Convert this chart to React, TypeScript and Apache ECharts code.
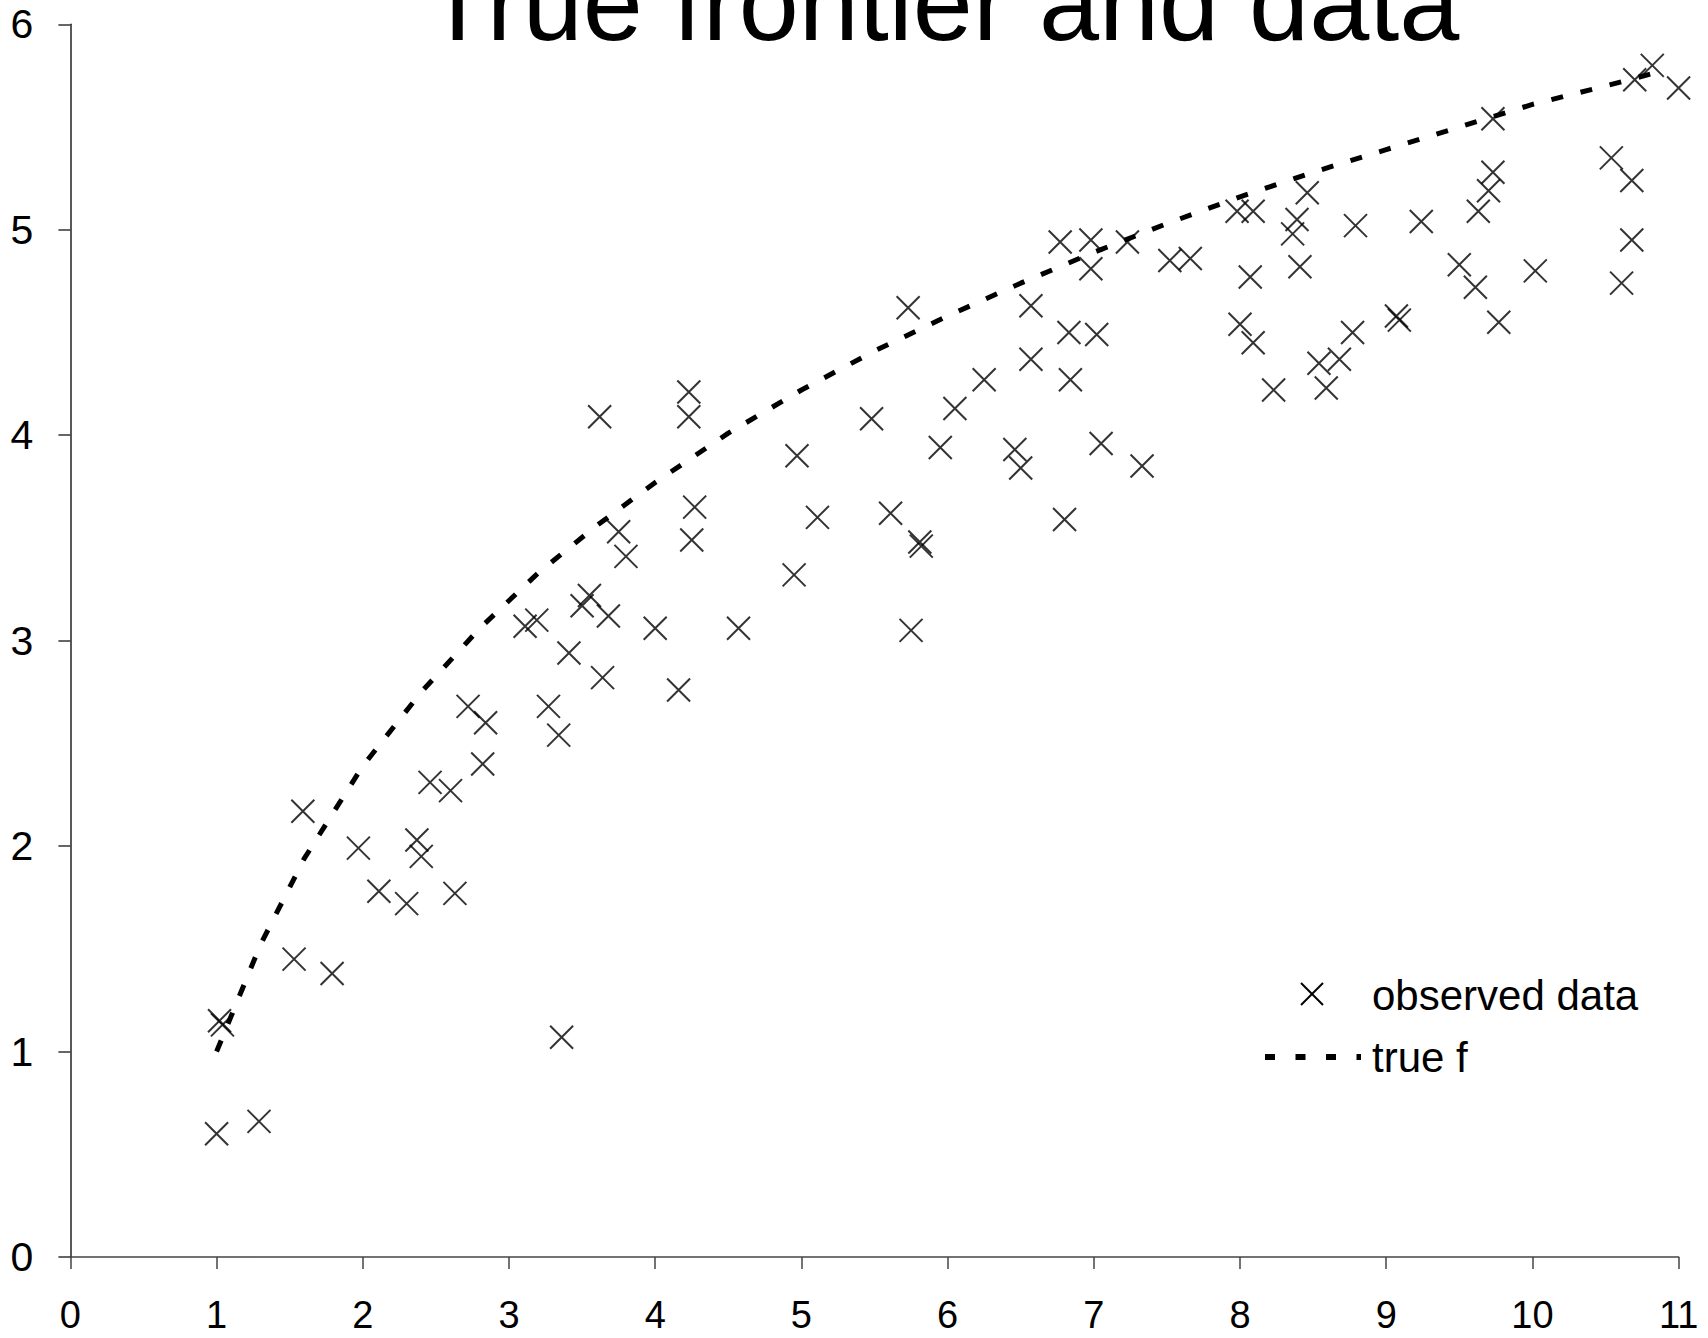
import React, { useEffect, useRef } from "react";
import * as echarts from "echarts";

const titleText = "True frontier and data";
const seriesNames = ["observed data", "true f"];
const xTicks = [0, 1, 2, 3, 4, 5, 6, 7, 8, 9, 10, 11];
const yTicks = [0, 1, 2, 3, 4, 5, 6];

const obsX = [
  1.0, 1.02, 1.04, 1.29, 1.53, 1.59, 1.79, 1.97, 2.11, 2.3, 2.37, 2.4, 2.46, 2.6, 2.63, 2.72, 2.84, 2.82,
  3.11, 3.19, 3.27, 3.34, 3.36, 3.41, 3.5, 3.55, 3.62, 3.64, 3.68, 3.75, 3.8, 4.0, 4.16, 4.23, 4.23, 4.25,
  4.27, 4.57, 4.95, 4.97, 5.11, 5.48, 5.61, 5.73, 5.75, 5.81, 5.82, 5.95, 6.05, 6.25, 6.46, 6.5, 6.57, 6.57,
  6.77, 6.8, 6.83, 6.84, 6.98, 6.98, 7.02, 7.05, 7.23, 7.33, 7.52, 7.66, 7.98, 8.09, 8.07, 8.0, 8.09, 8.23,
  8.46, 8.39, 8.36, 8.41, 8.54, 8.68, 8.59, 8.77, 8.79, 9.07, 9.09, 9.24, 9.5, 9.61, 9.63, 9.7, 9.73, 9.73,
  9.77, 10.02, 10.54, 10.68, 10.68, 10.61, 10.7, 10.82, 11.0,
];
const obsY = [
  0.6, 1.15, 1.13, 0.66, 1.45, 2.17, 1.38, 1.99, 1.78, 1.72, 2.03, 1.95, 2.31, 2.27, 1.77, 2.68, 2.6, 2.4,
  3.07, 3.1, 2.68, 2.54, 1.07, 2.94, 3.17, 3.22, 4.09, 2.82, 3.12, 3.53, 3.41, 3.06, 2.76, 4.21, 4.09, 3.49,
  3.65, 3.06, 3.32, 3.9, 3.6, 4.08, 3.62, 4.62, 3.05, 3.48, 3.46, 3.94, 4.13, 4.27, 3.93, 3.84, 4.63, 4.37,
  4.94, 3.59, 4.5, 4.27, 4.95, 4.81, 4.49, 3.96, 4.94, 3.85, 4.85, 4.86, 5.09, 5.09, 4.77, 4.54, 4.45, 4.22,
  5.18, 5.05, 4.98, 4.82, 4.35, 4.37, 4.23, 4.5, 5.02, 4.58, 4.56, 5.04, 4.83, 4.72, 5.09, 5.19, 5.28, 5.54,
  4.55, 4.8, 5.35, 5.24, 4.95, 4.74, 5.73, 5.8, 5.69,
];

const frontierX = [1.0, 1.3, 1.6, 2.0, 2.4, 2.8, 3.2, 3.6, 4.0, 4.5, 5.0, 5.5, 6.0, 6.5, 7.0, 7.5, 8.0, 8.5, 9.0, 9.5, 10.0, 10.5, 10.82];
const frontierY = [1.0, 1.52, 1.94, 2.39, 2.75, 3.06, 3.33, 3.56, 3.77, 4.01, 4.22, 4.41, 4.58, 4.74, 4.89, 5.03, 5.16, 5.28, 5.39, 5.5, 5.61, 5.7, 5.76];

const FONT = "'Liberation Sans', Arial, Helvetica, sans-serif";
const CROSS = "path://M0,0L10,10M10,0L0,10";

export default function App() {
  const ref = useRef<HTMLDivElement>(null);

  useEffect(() => {
    if (!ref.current) return;
    const chart = echarts.init(ref.current, undefined, { renderer: "svg" });
    const scatterData = obsX.map((x, i) => [x, obsY[i]]);
    const lineData = frontierX.map((x, i) => [x, frontierY[i]]);

    chart.setOption({
      animation: false,
      backgroundColor: "#ffffff",
      grid: { left: 70.4, right: 29.4, top: 24.3, bottom: 81, containLabel: false },
      xAxis: {
        type: "value",
        min: xTicks[0],
        max: xTicks[xTicks.length - 1],
        interval: 1,
        axisLine: { show: true, onZero: false, lineStyle: { color: "#444", width: 1.5 } },
        axisTick: { show: true, inside: false, length: 12, lineStyle: { color: "#444", width: 1.5 } },
        splitLine: { show: false },
        axisLabel: { color: "#000", fontSize: 38, lineHeight: 38, fontFamily: FONT, margin: 39 },
      },
      yAxis: {
        type: "value",
        min: yTicks[0],
        max: yTicks[yTicks.length - 1],
        interval: 1,
        axisLine: { show: true, onZero: false, lineStyle: { color: "#222", width: 1.5 } },
        axisTick: { show: true, inside: false, length: 12, lineStyle: { color: "#333", width: 1.5 } },
        splitLine: { show: false },
        axisLabel: { color: "#000", fontSize: 41, fontFamily: FONT, margin: 37 },
      },
      series: [
        {
          name: seriesNames[0],
          type: "scatter",
          data: scatterData,
          symbol: CROSS,
          symbolSize: 23,
          itemStyle: { color: "none", borderColor: "#000", borderWidth: 2 },
          z: 3,
        },
        {
          name: seriesNames[1],
          type: "line",
          data: lineData,
          symbol: "none",
          showSymbol: false,
          smooth: false,
          lineStyle: { color: "#000", width: 5, type: [12, 18] },
          z: 2,
        },
      ],
      graphic: [
        {
          type: "text",
          x: 942,
          y: 2,
          style: {
            text: titleText,
            font: `108px ${FONT}`,
            fill: "#000",
            align: "center",
            verticalAlign: "middle",
          },
        },
        {
          type: "line",
          shape: { x1: 1301, y1: 983, x2: 1323, y2: 1005 },
          style: { stroke: "#000", lineWidth: 2 },
        },
        {
          type: "line",
          shape: { x1: 1323, y1: 983, x2: 1301, y2: 1005 },
          style: { stroke: "#000", lineWidth: 2 },
        },
        {
          type: "text",
          x: 1372,
          y: 995,
          style: {
            text: seriesNames[0],
            font: `42px ${FONT}`,
            fill: "#000",
            align: "left",
            verticalAlign: "middle",
          },
        },
        {
          type: "line",
          shape: { x1: 1265, y1: 1057, x2: 1361, y2: 1057 },
          style: { stroke: "#000", lineWidth: 6, lineDash: [10, 20.5] },
        },
        {
          type: "text",
          x: 1372,
          y: 1057,
          style: {
            text: seriesNames[1],
            font: `42px ${FONT}`,
            fill: "#000",
            align: "left",
            verticalAlign: "middle",
          },
        },
      ],
    });

    return () => chart.dispose();
  }, []);

  return (
    <div
      ref={ref}
      style={{ position: "fixed", left: 0, top: 0, width: "1708px", height: "1338px", background: "#fff" }}
    />
  );
}
